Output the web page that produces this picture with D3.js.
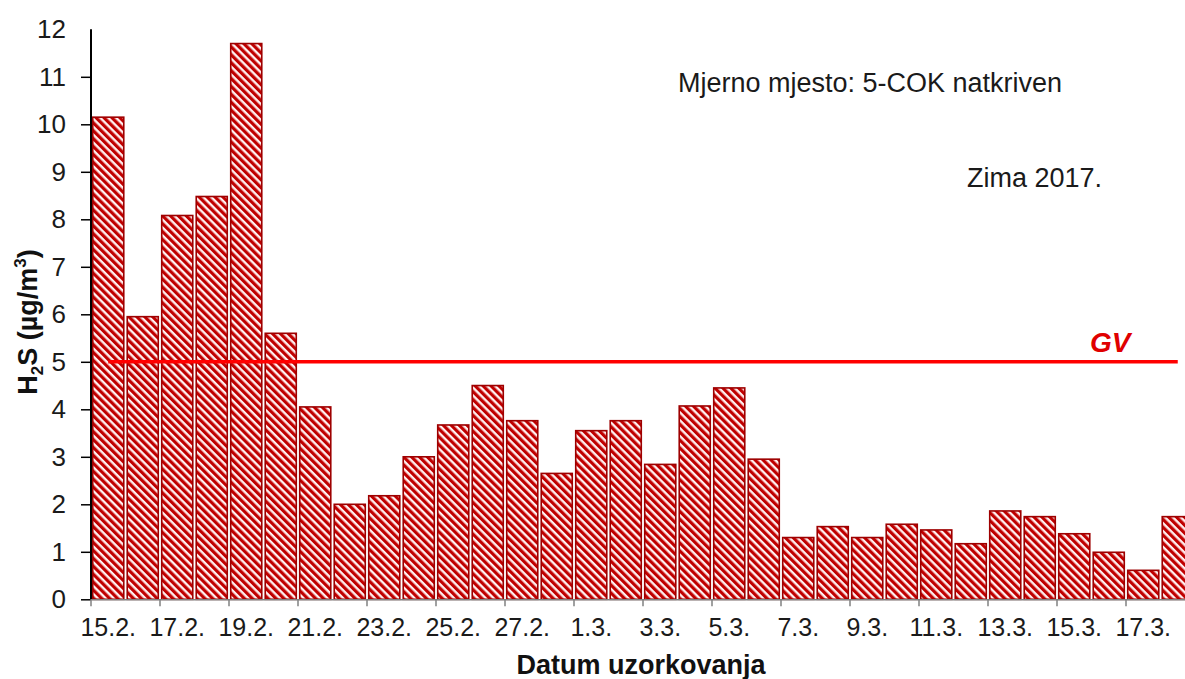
<!DOCTYPE html>
<html>
<head>
<meta charset="utf-8">
<script src="https://cdn.jsdelivr.net/npm/d3@7"></script>
<style>
  html, body { margin: 0; padding: 0; background: #fff; }
  svg { display: block; }
  text { font-family: "Liberation Sans", Arial, sans-serif; }
</style>
</head>
<body>
<svg id="chart" width="1185" height="679"></svg>
<script>
// ---- data ----
const categories = ["15.2.","16.2.","17.2.","18.2.","19.2.","20.2.","21.2.","22.2.","23.2.","24.2.",
  "25.2.","26.2.","27.2.","28.2.","1.3.","2.3.","3.3.","4.3.","5.3.","6.3.","7.3.","8.3.","9.3.",
  "10.3.","11.3.","12.3.","13.3.","14.3.","15.3.","16.3.","17.3.","18.3."];
const values = [10.15, 5.95, 8.08, 8.48, 11.7, 5.6, 4.05, 2.0, 2.18, 3.0,
  3.67, 4.5, 3.76, 2.65, 3.55, 3.76, 2.84, 4.07, 4.45, 2.95, 1.3, 1.53, 1.3,
  1.58, 1.46, 1.17, 1.86, 1.74, 1.38, 0.99, 0.61, 1.74];
const xTickLabels = ["15.2.","17.2.","19.2.","21.2.","23.2.","25.2.","27.2.","1.3.","3.3.","5.3.",
  "7.3.","9.3.","11.3.","13.3.","15.3.","17.3."];
const yTicks = [0,1,2,3,4,5,6,7,8,9,10,11,12];
const gvValue = 5;
const gvLabel = "GV";
const station = "Mjerno mjesto: 5-COK natkriven";
const season = "Zima 2017.";
const xTitle = "Datum uzorkovanja";

// ---- layout ----
const svg = d3.select("#chart");
const x0 = 91, yBottom = 599.3, yTop = 29.3;
const step = 34.5;
const x = d3.scaleBand().domain(categories)
  .range([x0, x0 + step * categories.length])
  .paddingInner(0.1).paddingOuter(0.05);
const y = d3.scaleLinear().domain([0, 12]).range([yBottom, yTop]);
const gapHalf = x.step() * x.paddingInner() / 2;

// pattern
const defs = svg.append("defs");
const pat = defs.append("pattern").attr("id", "hatch")
  .attr("patternUnits", "userSpaceOnUse").attr("width", 5.6).attr("height", 5.6)
  .attr("patternTransform", "rotate(-45)");
pat.append("rect").attr("width", 5.6).attr("height", 5.6).attr("fill", "#fff0f0");
pat.append("rect").attr("width", 3.2).attr("height", 5.6).attr("fill", "#c00000");

// bars
svg.append("g").selectAll("rect").data(values).join("rect")
  .attr("x", (d, i) => x(categories[i]))
  .attr("width", x.bandwidth())
  .attr("y", d => y(d))
  .attr("height", d => y(0) - y(d))
  .attr("fill", "url(#hatch)")
  .attr("stroke", "#9e0000")
  .attr("stroke-width", 1.6);

// y axis
const yAxis = d3.axisLeft(y).tickValues(yTicks).tickFormat(d3.format("d")).tickSize(10).tickPadding(15);
const gy = svg.append("g").attr("transform", `translate(${x0},0)`).call(yAxis);
gy.select(".domain").attr("stroke", "#000").attr("stroke-width", 2).attr("d", `M0,${yTop}V${yBottom}`);
gy.selectAll(".tick line").attr("stroke", "#000").attr("stroke-width", 1.5)
  .filter(d => d === 12).remove();
gy.selectAll(".tick text").attr("font-size", 26).attr("fill", "#1a1a1a")
  .attr("font-family", "'Liberation Sans', Arial, sans-serif");

// x axis line & ticks
svg.append("line").attr("x1", x0).attr("x2", 1185).attr("y1", yBottom + 0.5).attr("y2", yBottom + 0.5)
  .attr("stroke", "#808080").attr("stroke-width", 1.5);
svg.append("g").selectAll("line").data(xTickLabels).join("line")
  .attr("x1", d => x(d) - gapHalf).attr("x2", d => x(d) - gapHalf)
  .attr("y1", yBottom).attr("y2", yBottom + 7)
  .attr("stroke", "#808080").attr("stroke-width", 1.5);
svg.append("g").selectAll("text").data(xTickLabels).join("text")
  .attr("x", d => x(d) + x.bandwidth() / 2)
  .attr("y", 636)
  .attr("text-anchor", "middle")
  .attr("font-size", 25).attr("fill", "#1a1a1a")
  .text(d => d);

// GV line
svg.append("line")
  .attr("x1", x(categories[0]) + x.bandwidth() / 2)
  .attr("x2", x(categories[categories.length - 1]) + x.bandwidth() / 2)
  .attr("y1", y(gvValue)).attr("y2", y(gvValue))
  .attr("stroke", "#ff0000").attr("stroke-width", 3.5);
svg.append("text").attr("x", 1090).attr("y", 352)
  .attr("font-size", 28).attr("font-weight", "bold").attr("font-style", "italic")
  .attr("fill", "#e00000").text(gvLabel);

// annotations
svg.append("text").attr("x", 678).attr("y", 92).attr("font-size", 27).attr("fill", "#1a1a1a").text(station);
svg.append("text").attr("x", 967).attr("y", 187).attr("font-size", 27).attr("fill", "#1a1a1a").text(season);

// axis titles
svg.append("text").attr("x", 641).attr("y", 674).attr("text-anchor", "middle")
  .attr("font-size", 27).attr("font-weight", "bold").attr("fill", "#111").text(xTitle);

const yt = svg.append("text").attr("transform", "translate(37,322) rotate(-90)")
  .attr("text-anchor", "middle").attr("font-size", 27).attr("font-weight", "bold").attr("fill", "#111");
yt.append("tspan").text("H");
yt.append("tspan").attr("font-size", 17).attr("dy", 6).text("2");
yt.append("tspan").attr("dy", -6).text("S (µg/m");
yt.append("tspan").attr("font-size", 17).attr("dy", -11).text("3");
yt.append("tspan").attr("dy", 11).text(")");
</script>
</body>
</html>
